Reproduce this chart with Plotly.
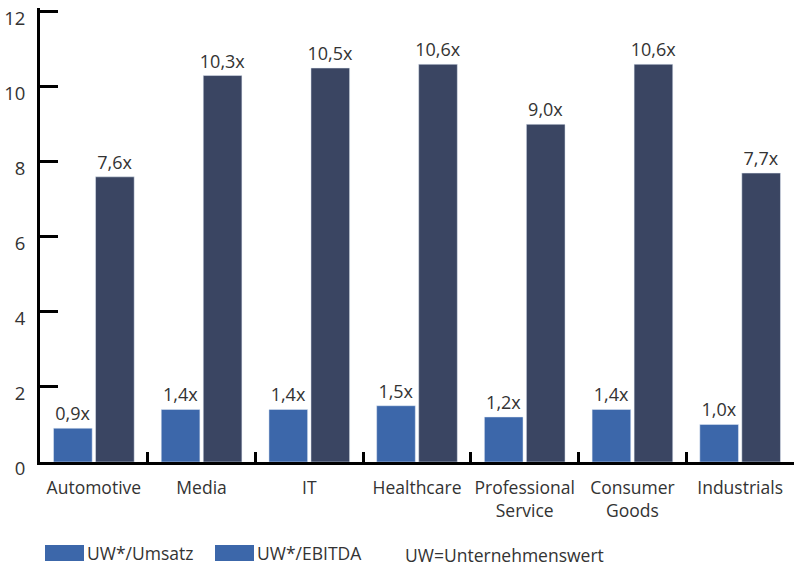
import plotly.graph_objects as go

categories = ["Automotive", "Media", "IT", "Healthcare", "Professional<br>Service", "Consumer<br>Goods", "Industrials"]
uw_umsatz = [0.9, 1.4, 1.4, 1.5, 1.2, 1.4, 1.0]
uw_ebitda = [7.6, 10.3, 10.5, 10.6, 9.0, 10.6, 7.7]
y_ticks = [0, 2, 4, 6, 8, 10, 12]
legend_names = ["UW*/Umsatz", "UW*/EBITDA"]
note_text = "UW=Unternehmenswert"

BLUE = "#3c67aa"
NAVY = "#3a4562"
FONT = "Open Sans"
TXT = "#333333"

fig = go.Figure()
for vals, name, col in [(uw_umsatz, legend_names[0], BLUE), (uw_ebitda, legend_names[1], NAVY)]:
    fig.add_trace(go.Bar(x=categories, y=vals, name=name, marker_color=col,
                         texttemplate="%{y:.1f}x", textposition="outside",
                         constraintext="none",
                         textfont=dict(family=FONT, size=18, color=TXT), cliponaxis=False))

W, H = 795, 566
L, R, T, B = 40, 1, 8, 104
YMAX = 12.1
pw = W - L - R
ph = H - T - B

def px(x):
    return (x - L) / pw

def py(y):
    return (H - B - y) / ph

shapes = []
annotations = []
legend_items = [(45, 84, legend_names[0]), (215, 254, legend_names[1])]
for x0, x1, name in legend_items:
    shapes.append(dict(type="rect", xref="paper", yref="paper", x0=px(x0), x1=px(x1),
                       y0=py(561), y1=py(545), fillcolor=BLUE, line=dict(width=0)))
    annotations.append(dict(text=name, xref="paper", yref="paper", x=px(x1 + 2), y=py(553),
                            xanchor="left", yanchor="middle", showarrow=False, borderpad=0,
                            font=dict(family=FONT, size=17.5, color=TXT)))
annotations.append(dict(text=note_text, xref="paper", yref="paper", x=px(404), y=py(554.5),
                        xanchor="left", yanchor="middle", showarrow=False, borderpad=0,
                        font=dict(family=FONT, size=17.5, color=TXT)))

fig.update_layout(
    width=W, height=H,
    margin=dict(l=L, r=R, t=T, b=B, pad=0, autoexpand=False),
    paper_bgcolor="white", plot_bgcolor="white",
    barmode="group", bargap=0.22, bargroupgap=0.08,
    separators=",.",
    showlegend=False,
    font=dict(family=FONT, size=17, color=TXT),
    shapes=shapes, annotations=annotations,
    xaxis=dict(showgrid=False, showline=True, linecolor="black", linewidth=3,
               ticks="inside", ticklen=10, tickwidth=3, tickcolor="black",
               tickson="boundaries", ticklabelstandoff=8, tickangle=0, automargin=False,
               tickfont=dict(family=FONT, size=17.5, color=TXT),
               fixedrange=True),
    yaxis=dict(range=[0, YMAX], tickvals=y_ticks, showgrid=False, zeroline=False,
               showline=True, linecolor="black", linewidth=3,
               ticks="inside", ticklen=18, tickwidth=3, tickcolor="black",
               ticklabelstandoff=8, ticklabelshift=7, automargin=False,
               ticklabeloverflow="allow",
               tickfont=dict(family=FONT, size=18.5, color=TXT), fixedrange=True),
)

fig.write_html("out.html")
